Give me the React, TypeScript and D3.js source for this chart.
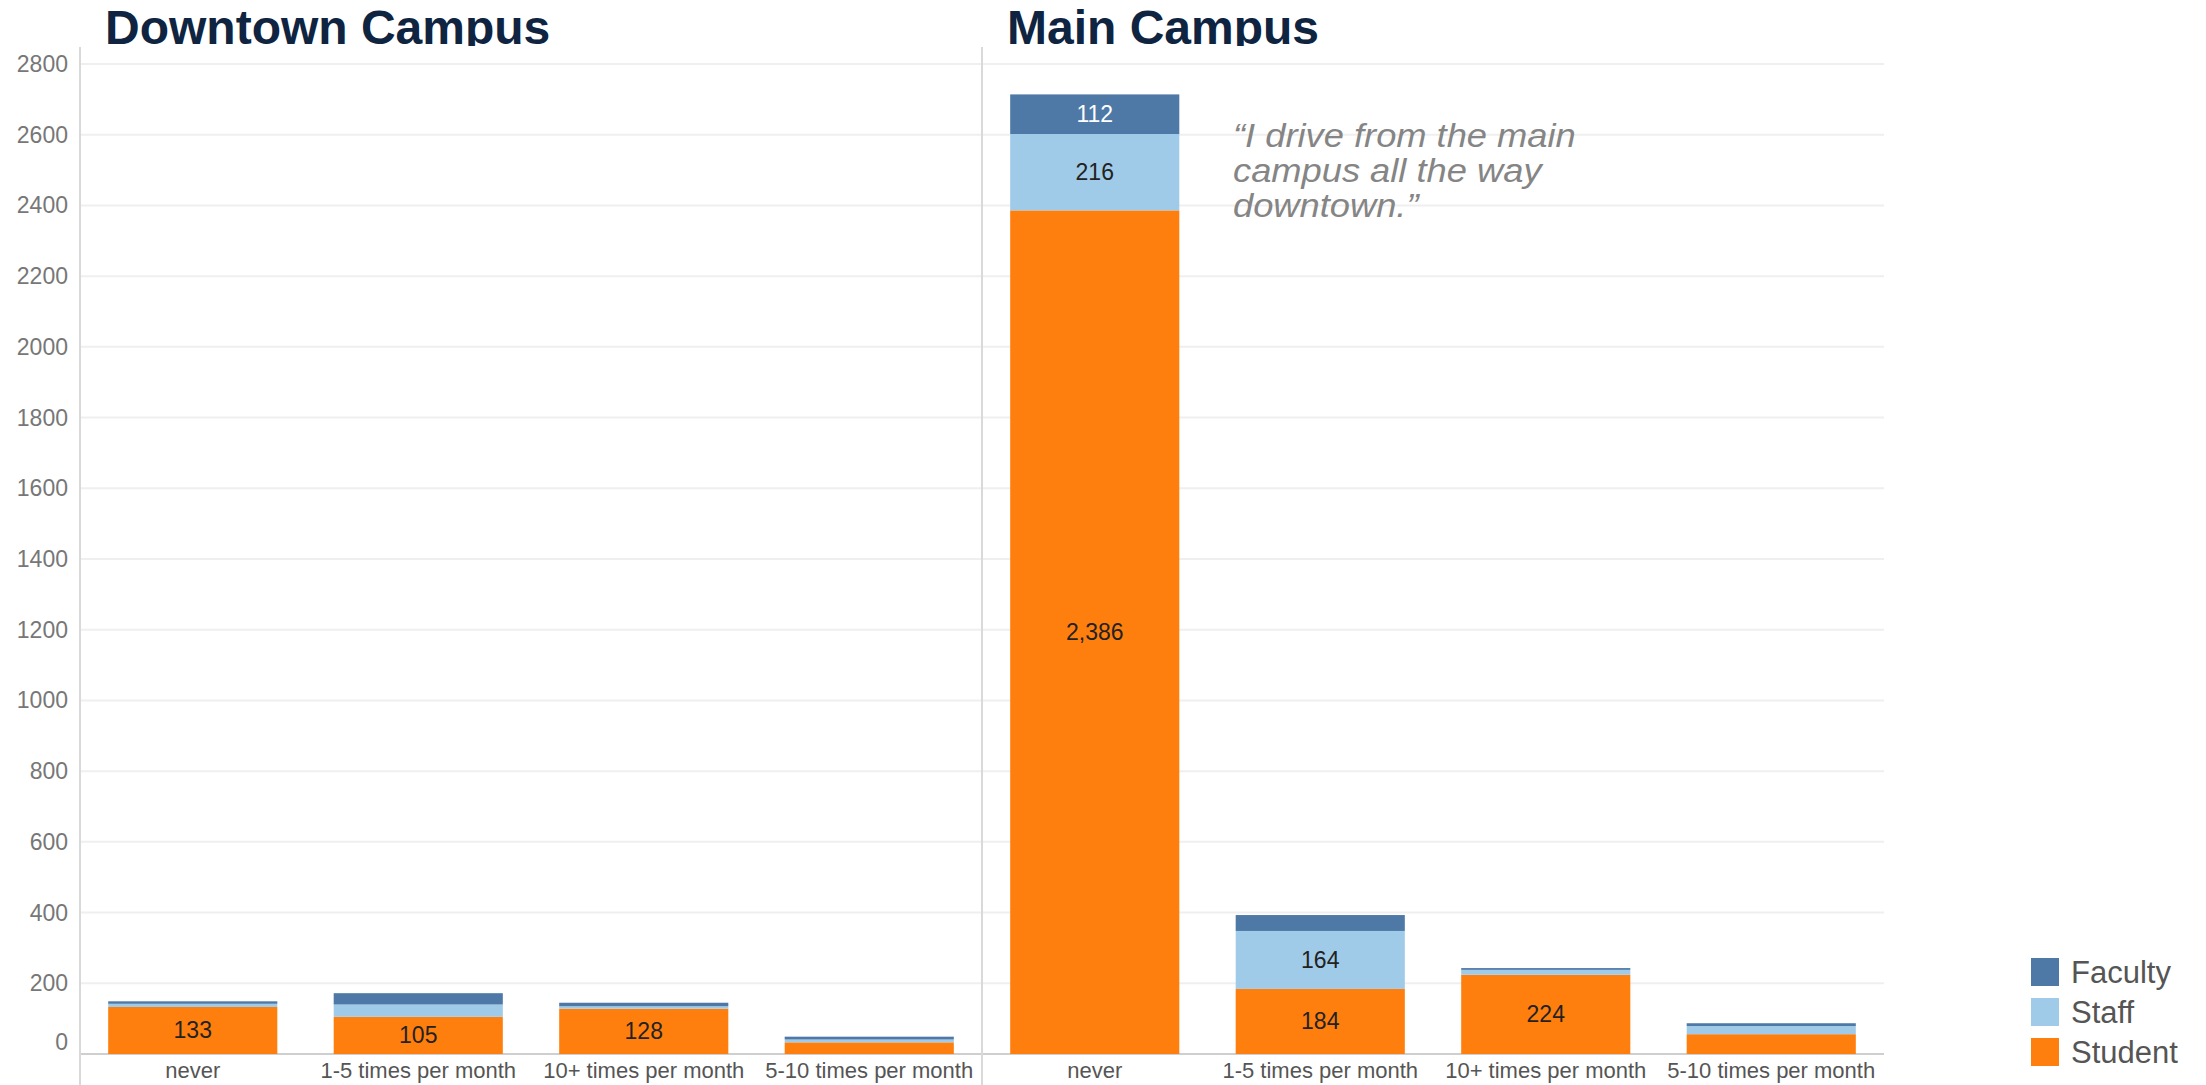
import React from 'react';
import * as d3 from 'd3';

const categories = ['never', '1-5 times per month', '10+ times per month', '5-10 times per month'];
const campuses = ['Downtown Campus', 'Main Campus'];
const roles = ['Faculty', 'Staff', 'Student'];

const downtownStudent = [133, 105, 128, 33];
const downtownStaff = [9, 35, 7, 8];
const downtownFaculty = [7, 32, 10, 8];

const mainStudent = [2386, 184, 224, 56];
const mainStaff = [216, 164, 14, 23];
const mainFaculty = [112, 45, 5, 8];

const yTicks = [0, 200, 400, 600, 800, 1000, 1200, 1400, 1600, 1800, 2000, 2200, 2400, 2600, 2800];
const quoteLines = ['\u201CI drive from the main', 'campus all the way', 'downtown.\u201D'];

const colors: Record<string, string> = { Faculty: '#4e79a7', Staff: '#a0cbe8', Student: '#ff7f0e' };

const W = 2206;
const H = 1085;
const left = 80;
const panelW = 902;
const top = 64;
const bottom = 1054;

const App: React.FC = () => {
  const y = d3.scaleLinear().domain([0, 2800]).range([bottom, top]);
  const x = d3.scaleBand<string>().domain(categories).range([0, panelW]).paddingInner(0.25).paddingOuter(0.125);

  const panels = [
    { name: campuses[0], student: downtownStudent, staff: downtownStaff, faculty: downtownFaculty },
    { name: campuses[1], student: mainStudent, staff: mainStaff, faculty: mainFaculty },
  ];

  const font = '"Liberation Sans", Arial, Helvetica, sans-serif';

  return (
    <svg width={W} height={H} style={{ position: 'absolute', left: 0, top: 0, background: '#fff' }} fontFamily={font}>
      <defs>
        <clipPath id="titleClip">
          <rect x={0} y={0} width={W} height={46} />
        </clipPath>
      </defs>

      {/* gridlines */}
      {yTicks.map(t => (
        <line key={'g' + t} x1={left} x2={left + panelW * 2} y1={y(t)} y2={y(t)}
          stroke={t === 0 ? '#cfcfcf' : '#efefef'} strokeWidth={2} />
      ))}

      {/* y tick labels */}
      {yTicks.map(t => (
        <text key={'t' + t} x={68} y={t === 0 ? y(t) - 12 : y(t)} textAnchor="end" dominantBaseline="central"
          fontSize={23} fill="#777">{t}</text>
      ))}

      {panels.map((p, pi) => {
        const ox = left + pi * panelW;
        const rows = categories.map((c, i) => ({ cat: c, Student: p.student[i], Staff: p.staff[i], Faculty: p.faculty[i] }));
        const series = d3.stack<any>().keys(['Student', 'Staff', 'Faculty'])(rows);
        return (
          <g key={p.name}>
            <text x={ox + 25} y={44} fontSize={48} fontWeight="bold" fill="#0e2441" clipPath="url(#titleClip)">{p.name}</text>
            <line x1={ox} x2={ox} y1={47} y2={H} stroke="#d9d9d9" strokeWidth={2} />
            <g transform={`translate(${ox},0)`}>
              {series.map(s => (
                <g key={s.key}>
                  {s.map((d, i) => {
                    const val = d[1] - d[0];
                    const bx = x(categories[i]) as number;
                    return (
                      <g key={i}>
                        <rect x={bx} y={y(d[1])} width={x.bandwidth()} height={y(d[0]) - y(d[1])}
                          fill={colors[s.key]} />
                        {val >= 100 && (
                          <text x={bx + x.bandwidth() / 2} y={y((d[0] + d[1]) / 2)} textAnchor="middle"
                            dominantBaseline="central" fontSize={23}
                            fill={s.key === 'Faculty' ? '#fff' : '#222'}>{d3.format(',')(val)}</text>
                        )}
                      </g>
                    );
                  })}
                </g>
              ))}
              {categories.map(c => (
                <text key={c} x={(x(c) as number) + x.bandwidth() / 2} y={1078} textAnchor="middle"
                  fontSize={22} fill="#555">{c}</text>
              ))}
            </g>
          </g>
        );
      })}

      {/* quote */}
      <g transform="translate(1233,0) scale(1.1,1)">
        {quoteLines.map((l, i) => (
          <text key={i} x={0} y={147 + i * 35} fontSize={33} fontStyle="italic" fill="#858585">{l}</text>
        ))}
      </g>

      {/* legend */}
      {roles.map((r, i) => (
        <g key={r} transform={`translate(2031,${958 + i * 40})`}>
          <rect width={28} height={28} fill={colors[r]} />
          <text x={40} y={14} dominantBaseline="central" fontSize={31} fill="#555">{r}</text>
        </g>
      ))}
    </svg>
  );
};

export default App;
